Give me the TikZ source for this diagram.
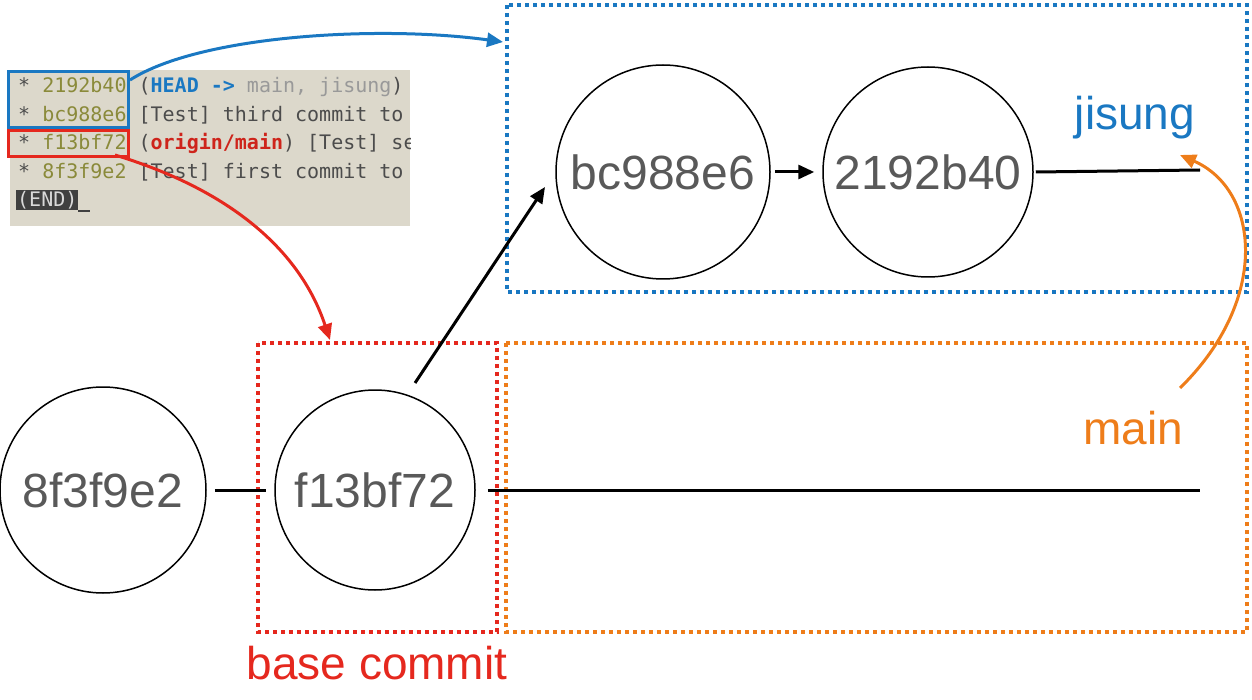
\documentclass[tikz,border=0pt]{standalone}
\usepackage{fontspec}
\setmainfont{Liberation Sans}
\newfontfamily\termfont{DejaVu Sans Mono}
\usetikzlibrary{arrows.meta}
\definecolor{gitblue}{HTML}{1A78C2}
\definecolor{gitred}{HTML}{E5281E}
\definecolor{gitorange}{HTML}{EE7D1A}
\definecolor{termbg}{HTML}{DCD8CB}
\definecolor{hashcol}{HTML}{8A8A3A}
\begin{document}
\begin{tikzpicture}[x=1pt,y=-1pt,
    commit/.style={circle,draw,line width=1.5pt,minimum size=206pt,inner sep=0pt,
                   font=\fontsize{48}{48}\selectfont,text=black!65},
    region/.style={line width=4pt,dash pattern=on 4pt off 4pt},
    line/.style={line width=3pt},
    tline/.style={font=\termfont\fontsize{20}{20}\selectfont,anchor=west,inner sep=0pt,text=black!70}]
  \useasboundingbox (0,0) rectangle (1252,700);
  % terminal
  \begin{scope}
    \clip (10,70) rectangle (410,226);
    \fill[termbg] (10,70) rectangle (410,226);
    \node[tline] (l1) at (18,87) {* \textcolor{hashcol}{2192b40} (\textcolor{gitblue}{\textbf{HEAD -> }}\textcolor{black!40}{main, jisung})};
    \node[tline] (l2) at (18,115) {* \textcolor{hashcol}{bc988e6} [Test] third commit to};
    \node[tline] (l3) at (18,143) {* \textcolor{hashcol}{f13bf72} (\textcolor{gitred!90!black}{\textbf{origin/main}}) [Test] second};
    \node[tline] (l4) at (18,172) {* \textcolor{hashcol}{8f3f9e2} [Test] first commit to};
    \node[tline,fill=black!75,text=white!85!black,inner sep=1pt] (l5) at (16,200) {(END)};
    \draw[line width=2pt,black!75] (78,211) -- (90,211);
  \end{scope}
  \draw[gitblue,line width=3pt] (8,72) rectangle (128,128);
  \draw[gitred,line width=3pt] (8,131) rectangle (128,157);
  % regions
  \draw[region,gitblue] (507,5) rectangle (1247,292);
  \draw[region,gitred] (258,343) rectangle (497,632);
  \draw[region,gitorange] (506,343) rectangle (1247,632);
  % commits
  \node[commit] (c1) at (103,490) {8f3f9e2};
  \node[commit,minimum size=200pt] (c2) at (375,490) {f13bf72};
  \node[commit,minimum size=214pt] (c3) at (663,172) {bc988e6};
  \node[commit,minimum size=210pt] (c4) at (928,172) {2192b40};
  \coordinate (mainend) at (1200,490);
  \coordinate (jisend) at (1200,170);
  \coordinate (branchtip) at (545,187);
  \draw[line] ([xshift=8pt]c1.east) -- ([xshift=-8pt]c2.west);
  \draw[line] ([xshift=12pt]c2.east) -- (mainend);
  \draw[line] ([xshift=2pt]c4.east) -- (jisend);
  \draw[line,-{Triangle[length=16pt,width=14pt]}] (415,383) -- (branchtip);
  \draw[line,-{Triangle[length=16pt,width=14pt]}] ([xshift=4pt]c3.east) -- ([xshift=-8pt]c4.west);
  % labels
  \node[gitblue,font=\fontsize{46}{46}\selectfont] (jis) at (1135,118) {jisung};
  \node[gitorange,font=\fontsize{46}{46}\selectfont] (mainlbl) at (1133,428) {main};
  \node[gitred,font=\fontsize{46}{46}\selectfont] (base) at (377,663) {base commit};
  % pointers
  \draw[gitorange,line width=3pt,-{Triangle[length=16pt,width=14pt]}] (1180,388) .. controls (1270,300) and (1260,190) .. (1180,155);
  \draw[gitblue,line width=3pt,-{Triangle[length=16pt,width=14pt]}] (130,80) .. controls (200,35) and (380,25) .. (503,42);
  \draw[gitred,line width=3pt,-{Triangle[length=16pt,width=14pt]}] (115,155) .. controls (230,190) and (300,250) .. (330,340);
\end{tikzpicture}
\end{document}
